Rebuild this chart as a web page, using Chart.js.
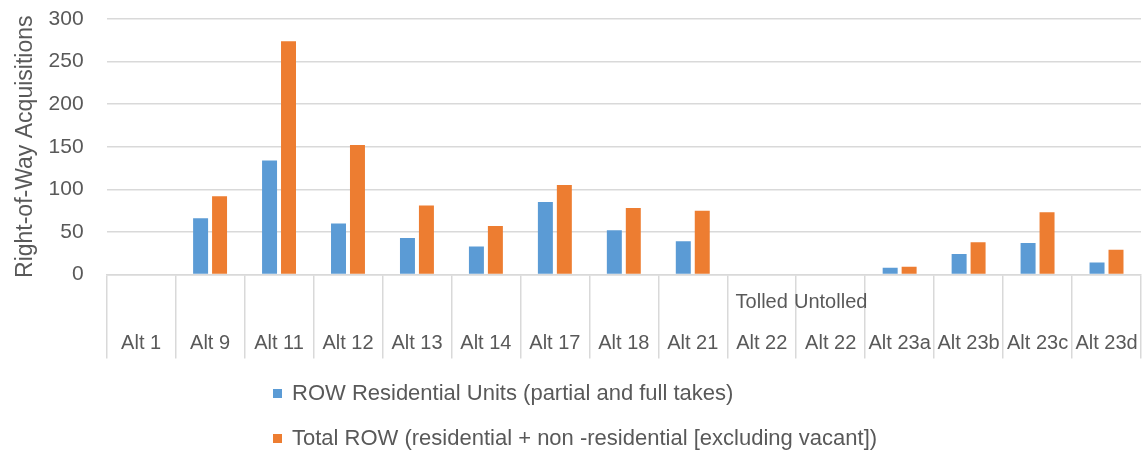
<!DOCTYPE html>
<html>
<head>
<meta charset="utf-8">
<script src="https://cdn.jsdelivr.net/npm/chart.js@4"></script>
<style>
  body { margin: 0; background: #fff; }
  #wrap { position: relative; width: 1142px; height: 451px; }
  #legend { position: absolute; left: 273px; top: 378px; font: 22px "Liberation Sans", Arial, sans-serif; color: #595959; }
  #legend div { height: 45px; line-height: 30px; white-space: nowrap; }
  #legend span { display: inline-block; width: 9px; height: 9px; margin-right: 10px; vertical-align: 2px; }
</style>
</head>
<body>
<div id="wrap">
  <canvas id="myChart" width="1142" height="451"></canvas>
  <div id="legend"></div>
</div>
<script>
const alternatives = ["Alt 1", "Alt 9", "Alt 11", "Alt 12", "Alt 13", "Alt 14", "Alt 17", "Alt 18", "Alt 21", "Alt 22", "Alt 22", "Alt 23a", "Alt 23b", "Alt 23c", "Alt 23d"];
const tollOption = ["", "", "", "", "", "", "", "", "", "Tolled", "Untolled", "", "", "", ""];
const residentialUnits = [null, 66, 134, 60, 43, 33, 85, 52, 39, null, null, 8, 24, 37, 14];
const totalRow = [null, 92, 274, 152, 81, 57, 105, 78, 75, null, null, 9, 38, 73, 29];
const yTicks = [0, 50, 100, 150, 200, 250, 300];

const grey = "#595959";
const lineGrey = "#d9d9d9";

// two-level category labels: toll option on top, alternative below.
// trailing blank lines keep the label box tall enough for the pulled-up text
const labels = alternatives.map((alt, i) => [tollOption[i], "", alt, "", "", "", ""]);

var ctx = document.getElementById("myChart").getContext("2d");
var chart = new Chart(ctx, {
  type: "bar",
  data: {
    labels: labels,
    datasets: [
      {
        label: "ROW Residential Units (partial and full takes)",
        backgroundColor: "#5b9bd5",
        data: residentialUnits,
      },
      {
        label: "Total ROW (residential + non -residential [excluding vacant])",
        backgroundColor: "#ed7d31",
        data: totalRow,
      },
    ],
  },
  options: {
    responsive: false,
    animation: false,
    layout: { padding: { top: 19, right: 1, bottom: 81, left: 0 } },
    datasets: { bar: { categoryPercentage: 0.55, barPercentage: 0.79 } },
    plugins: { legend: { display: false }, tooltip: { enabled: false } },
    scales: {
      x: {
        grid: {
          offset: true,
          drawOnChartArea: false,
          color: lineGrey,
          lineWidth: 1.5,
          tickLength: 84,
        },
        border: { color: lineGrey, width: 1.5 },
        ticks: {
          autoSkip: false,
          maxRotation: 0,
          padding: -66,
          color: grey,
          font: { family: "Liberation Sans", size: 20, lineHeight: 1.025 },
        },
      },
      y: {
        min: 0,
        max: 300,
        afterBuildTicks: (scale) => {
          scale.ticks = yTicks.map((v) => ({ value: v }));
        },
        // invisible tick marks give the gap between labels and plot
        grid: { color: lineGrey, lineWidth: 1.5, tickLength: 20, tickColor: "rgba(0,0,0,0)" },
        border: { display: false },
        ticks: {
          padding: 3,
          color: grey,
          font: { family: "Liberation Sans", size: 21 },
        },
        title: {
          display: true,
          text: "Right-of-Way Acquisitions",
          color: grey,
          padding: { top: 12, bottom: 6 },
          font: { family: "Liberation Sans", size: 23 },
        },
      },
    },
  },
});

// legend list below the chart, one series per row
const legendBox = document.getElementById("legend");
chart.data.datasets.forEach((ds) => {
  const row = document.createElement("div");
  const swatch = document.createElement("span");
  swatch.style.background = ds.backgroundColor;
  row.appendChild(swatch);
  row.appendChild(document.createTextNode(ds.label));
  legendBox.appendChild(row);
});
</script>
</body>
</html>
